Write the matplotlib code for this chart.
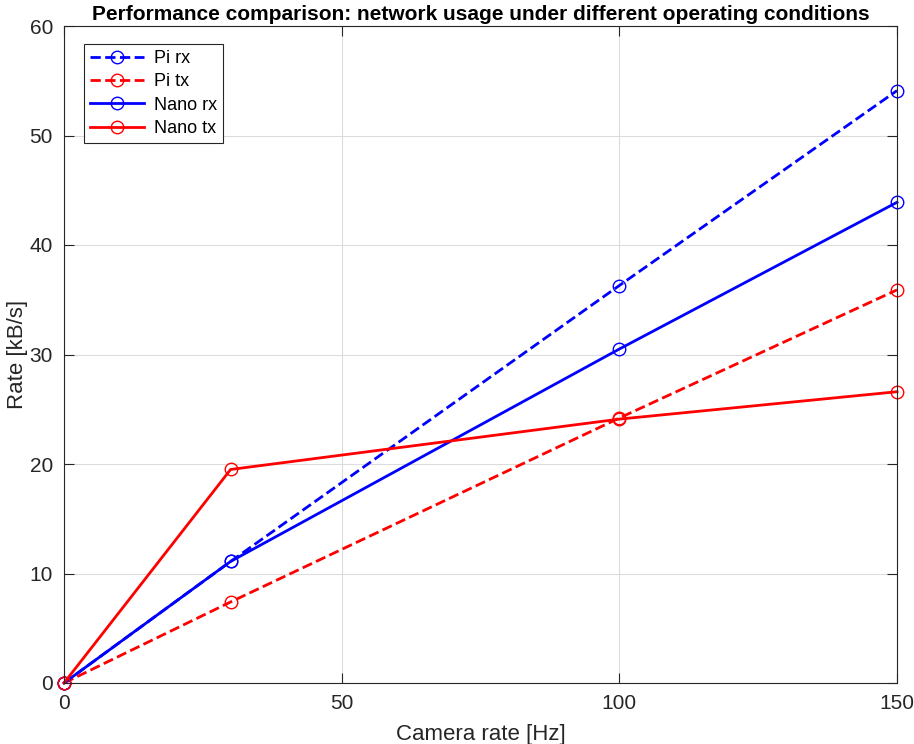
import matplotlib
matplotlib.use("Agg")
import matplotlib.pyplot as plt

plt.rcParams['font.family'] = ['Liberation Sans', 'DejaVu Sans']

camera_rate = [0, 30, 100, 150]
pi_rx = [0, 11.1, 36.3, 54.1]
pi_tx = [0, 7.4, 24.2, 35.9]
nano_rx = [0, 11.1, 30.5, 43.9]
nano_tx = [0, 19.5, 24.1, 26.6]

fig = plt.figure(figsize=(9.14, 7.44), dpi=100)
ax = fig.add_axes([64/914, 1-683/744, (897-64)/914, (683-26)/744])

mk = dict(marker='o', markersize=9, markerfacecolor='none', linewidth=2, clip_on=False)
ax.plot(camera_rate, pi_rx, '--', color='blue', label='Pi rx', **mk)
ax.plot(camera_rate, pi_tx, '--', color='red', label='Pi tx', **mk)
ax.plot(camera_rate, nano_rx, '-', color='blue', label='Nano rx', **mk)
ax.plot(camera_rate, nano_tx, '-', color='red', label='Nano tx', **mk)

ax.set_xlim(0, 150)
ax.set_ylim(0, 60)
ax.set_xticks([0, 50, 100, 150])
ax.set_yticks(range(0, 61, 10))
ax.grid(True, color='#dcdcdc', linewidth=0.8)
ax.set_axisbelow(True)
for s in ax.spines.values():
    s.set_color('#262626')
    s.set_linewidth(0.8)
ax.tick_params(direction='in', labelsize=15, colors='#262626', length=7, pad=8,
               top=True, right=True)
ax.set_xlabel('Camera rate [Hz]', fontsize=16, color='#262626', labelpad=8)
ax.set_ylabel('Rate [kB/s]', fontsize=16, color='#262626')
ax.yaxis.set_label_coords(-0.043, 0.5)
ax.set_title('Performance comparison: network usage under different operating conditions',
             fontsize=15, fontweight='bold', pad=4)

leg = ax.legend(loc='upper left', bbox_to_anchor=(0.024, 0.973), fontsize=13,
                fancybox=False, framealpha=1, edgecolor='#262626', borderaxespad=0,
                handlelength=3.0, borderpad=0.35, labelspacing=0.35, handletextpad=0.5)
leg.get_frame().set_linewidth(0.8)

fig.savefig('out.png', dpi=100)
